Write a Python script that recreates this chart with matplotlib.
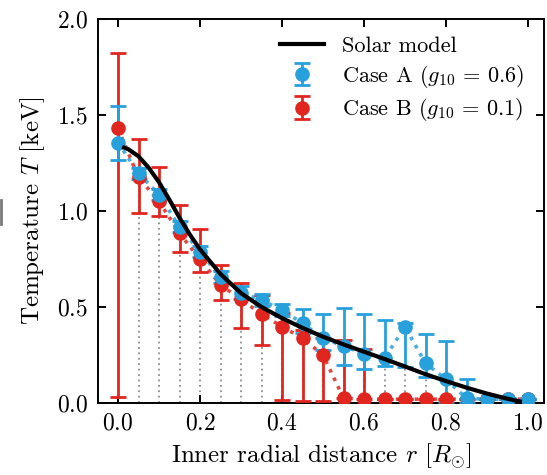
import matplotlib
matplotlib.use("Agg")
import matplotlib.pyplot as plt
from matplotlib.lines import Line2D

plt.rcParams.update({
    "font.family": "serif",
    "font.serif": ["cmr10"],
    "mathtext.fontset": "cm",
    "axes.formatter.use_mathtext": True,
    "axes.unicode_minus": False,
    "font.size": 17,
})

# Radial sampling of the reconstructed profiles
r = [0.00, 0.05, 0.10, 0.15, 0.20, 0.25, 0.30, 0.35, 0.40, 0.45, 0.50,
     0.55, 0.60, 0.65, 0.70, 0.75, 0.80, 0.85, 0.90, 0.95, 1.00]

# Case A (g10 = 0.6)
T_a = [1.356, 1.196, 1.085, 0.918, 0.788, 0.656, 0.574, 0.536, 0.484, 0.415, 0.337,
       0.297, 0.255, 0.233, 0.397, 0.207, 0.123, 0.024, 0.020, 0.020, 0.020]
err_a_lo = [0.09, 0.03, 0.03, 0.03, 0.03, 0.03, 0.03, 0.03, 0.03, 0.05, 0.06,
            0.10, 0.08, 0.04, 0.21, 0.07, 0.12, 0.024, 0.0, 0.0, 0.0]
err_a_hi = [0.19, 0.03, 0.03, 0.03, 0.03, 0.03, 0.035, 0.03, 0.03, 0.075, 0.125,
            0.20, 0.21, 0.20, 0.02, 0.153, 0.20, 0.10, 0.0, 0.0, 0.0]

# Case B (g10 = 0.1)
T_b = [1.430, 1.175, 1.050, 0.884, 0.748, 0.615, 0.540, 0.462, 0.398, 0.337, 0.250,
       0.025, 0.020, 0.020, 0.020, 0.020, 0.020, 0.020, 0.020, 0.020, 0.020]
err_b_lo = [1.40, 0.184, 0.076, 0.10, 0.064, 0.079, 0.151, 0.16, 0.385, 0.325, 0.24,
            0.0, 0.0, 0.0, 0.0, 0.0, 0.0, 0.0, 0.0, 0.0, 0.0]
err_b_hi = [0.395, 0.20, 0.18, 0.147, 0.156, 0.104, 0.083, 0.10, 0.07, 0.043, 0.09,
            0.305, 0.26, 0.0, 0.0, 0.0, 0.0, 0.0, 0.0, 0.0, 0.0]

# Standard solar model temperature profile
r_model = [0.015, 0.025, 0.05, 0.075, 0.10, 0.125, 0.15, 0.175, 0.20, 0.25, 0.30,
           0.35, 0.40, 0.45, 0.50, 0.55, 0.60, 0.65, 0.70, 0.75, 0.80, 0.85,
           0.90, 0.95, 0.98]
T_model = [1.330, 1.322, 1.285, 1.225, 1.150, 1.060, 0.965, 0.878, 0.800, 0.672,
           0.572, 0.500, 0.442, 0.391, 0.345, 0.305, 0.267, 0.229, 0.190, 0.150,
           0.114, 0.080, 0.049, 0.022, 0.008]

blue = "#27a0dc"
red = "#e0261f"

fig = plt.figure(figsize=(5.47, 4.75), dpi=100)
ax = fig.add_axes([0.179, 0.1516, 0.8155, 0.8084])

# grey guide lines from the axis up to each Case A estimate
ax.vlines(r[1:], 0, T_a[1:], colors="#8c8c8c", linewidth=1.3,
          linestyles=(0, (1, 2)), zorder=1)

# dotted connectors through each reconstruction
ax.plot(r, T_a, color=blue, lw=2.6, linestyle=(0, (1, 1.6)), zorder=2, alpha=0.85)
ax.plot(r, T_b, color=red, lw=2.6, linestyle=(0, (1, 1.6)), zorder=2, alpha=0.85)

label_a = r"Case A ($g_{10}\,=\,0.6$)"
label_b = r"Case B ($g_{10}\,=\,0.1$)"
eb_a = ax.errorbar(r, T_a, yerr=[err_a_lo, err_a_hi], fmt="o", color=blue,
                   ms=9.5, elinewidth=2.0, capsize=6, capthick=2.0, label=label_a)
eb_b = ax.errorbar(r, T_b, yerr=[err_b_lo, err_b_hi], fmt="o", color=red,
                   ms=9.5, elinewidth=2.0, capsize=6, capthick=2.0, label=label_b)

# stacking: red bars < blue bars < red markers < blue markers
for cont, zbar, zmark in ((eb_b, 3.0, 3.4), (eb_a, 3.2, 3.6)):
    line, caps, bars = cont.lines
    line.set_zorder(zmark)
    for c in caps:
        c.set_zorder(zbar)
    for b in bars:
        b.set_zorder(zbar)

(model_line,) = ax.plot(r_model, T_model, color="black", lw=3.0, zorder=5,
                        label="Solar model")

ax.set_xlim(-0.049, 1.039)
ax.set_ylim(0.0, 2.0)
ax.set_xticks([0.0, 0.2, 0.4, 0.6, 0.8, 1.0])
ax.set_yticks([0.0, 0.5, 1.0, 1.5, 2.0])
ax.tick_params(direction="in", top=True, right=True, length=6, width=1.4,
               labelsize=17, pad=7)
for s in ax.spines.values():
    s.set_linewidth(1.4)

ax.set_xlabel(r"Inner radial distance $r$ $[R_{\odot}]$", fontsize=18, labelpad=5)
ax.set_ylabel(r"Temperature $T$ [keV]", fontsize=18, labelpad=7)

ax.legend([model_line, eb_a, eb_b], ["Solar model", label_a, label_b],
          loc="upper right", bbox_to_anchor=(0.99, 0.995), frameon=False,
          fontsize=16, handlelength=2.0, labelspacing=0.3, borderaxespad=0.3,
          handletextpad=0.8)

# short grey mark at the left edge of the canvas
fig.add_artist(Line2D([0.002, 0.002], [1 - 200 / 475, 1 - 224 / 475],
                      color="#7a7a7a", lw=2.0))

fig.savefig("out.png", dpi=100)
